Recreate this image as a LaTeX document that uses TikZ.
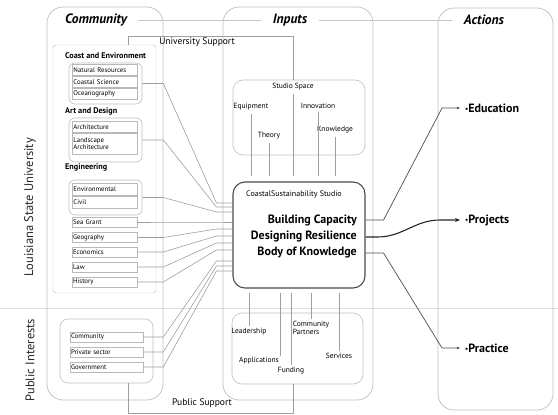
\documentclass[tikz,border=0pt]{standalone}
\usepackage{fontspec}
\setmainfont{PT Sans}
\usetikzlibrary{arrows.meta}

\newcommand{\dotmark}{{\fontsize{7}{7}\selectfont\raisebox{1pt}{•}}}

\tikzset{
  column/.style={draw=gray!50, rounded corners=16pt, line width=.7pt},
  group/.style={draw=gray!50, rounded corners=6pt, line width=.6pt},
  field/.style={draw=gray!55, line width=.5pt, inner sep=1pt, text width=63pt, minimum height=11pt, align=left, font=\fontsize{6.8}{7.2}\selectfont},
  head/.style={anchor=west, inner sep=0pt, font=\fontsize{8.2}{9}\selectfont\bfseries},
  title/.style={font=\fontsize{13.5}{15}\selectfont\bfseries\itshape},
  note/.style={inner sep=1pt, font=\fontsize{7.5}{8}\selectfont},
  side/.style={rotate=90, font=\fontsize{12.5}{14}\selectfont, text=gray!30!black},
  tie/.style={draw=gray!75, line width=.6pt},
  outcome/.style={anchor=west, inner sep=5pt, font=\fontsize{12}{14}\selectfont\bfseries},
  big/.style={anchor=east, inner sep=0pt, font=\fontsize{12}{14}\selectfont\bfseries},
}

\begin{document}
\begin{tikzpicture}[x=1pt, y=-1pt]
\useasboundingbox (0,0) rectangle (558,415);

% university / public split
\draw[gray!25, line width=.8pt] (0,308) -- (558,308);

% the three columns
\node[column, minimum width=116pt, minimum height=393pt] (com) at (105,203.5) {};
\node[column, minimum width=150pt, minimum height=393pt] (inp) at (298,203.5) {};
\node[column, minimum width=115pt, minimum height=402pt] (act) at (495.5,209) {};

\node[title] (tcom) at (96,20) {Community};
\node[title] (tinp) at (290,20) {Inputs};
\node[title] (tact) at (484,20) {Actions};
\draw[gray!45, shorten <=8pt, shorten >=8pt] (tcom) -- (tinp);
\draw[gray!45, shorten <=8pt, shorten >=8pt] (tinp) -- (tact);

\node[side] (lsulab) at (30,207) {Louisiana State University};
\node[side] (publab) at (30,360) {Public Interests};

% community side
\node[draw=gray!50, rounded corners=3pt, minimum width=103pt, minimum height=248pt] (lsu) at (104.5,169) {};
\node[group, rounded corners=8pt, minimum width=93pt, minimum height=64pt] (pub) at (106.5,351) {};

\node[head] (hcoast) at (65,56) {Coast and Environment};
\node[group, minimum width=73pt, minimum height=41pt] (coast) at (105.5,83.5) {};
\node[field] (natres) at (105,70) {Natural Resources};
\node[field] (coastsci) at (105,82) {Coastal Science};
\node[field] (ocean) at (105,94) {Oceanography};

\node[head] (hart) at (65,111) {Art and Design};
\node[group, minimum width=73pt, minimum height=44pt] (art) at (105.5,140) {};
\node[field] (arch) at (105,127) {Architecture};
\node[field, minimum height=21pt] (land) at (105,144) {Landscape\\Architecture};

\node[head] (heng) at (65,167) {Engineering};
\node[group, minimum width=73pt, minimum height=35pt] (eng) at (105.5,197.5) {};
\node[field, minimum height=12pt] (env) at (105,189) {Environmental};
\node[field, minimum height=12pt] (civil) at (105,202) {Civil};

\foreach \name/\txt/\yy in {sea/Sea Grant/222, geo/Geography/237.5, eco/Economics/252, law/Law/267, hist/History/282}
  \node[field, minimum height=10pt] (\name) at (104.5,\yy) {\txt};

\foreach \name/\txt/\yy in {comm/Community/337, priv/Private sector/352, gov/Government/367}
  \node[field, minimum height=10pt, text width=71pt] (\name) at (106.5,\yy) {\txt};

% inputs
\node[group, rounded corners=10pt, minimum width=132pt, minimum height=75pt] (studio) at (299,117.5) {};
\node[note] (space) at (293,87) {Studio Space};
\node[note] (equip) at (251,107) {Equipment};
\node[note] (innov) at (318,106) {Innovation};
\node[note] (theory) at (269,136) {Theory};
\node[note] (know) at (335,130) {Knowledge};

\node[draw=gray!60!black, line width=1.1pt, rounded corners=12pt, minimum width=132pt, minimum height=106pt] (css) at (299,235) {};
\node[inner sep=0pt, font=\fontsize{8}{9}\selectfont] (csstit) at (294,194) {CoastalSustainability Studio};
\node[big] (build) at (357,220) {Building Capacity};
\node[big] (design) at (357,237) {Designing Resilience};
\node[big] (body) at (357,253) {Body of Knowledge};

\node[group, rounded corners=10pt, minimum width=131pt, minimum height=71pt] (reach) at (297.5,348.5) {};
\node[note] (lead) at (249,332) {Leadership};
\node[note, align=left] (partner) at (311,328) {Community\\Partners};
\node[note] (serv) at (339,356) {Services};
\node[note] (appl) at (259,361) {Applications};
\node[note] (fund) at (291,371) {Funding};

% actions
\node[outcome] (edu) at (460,108) {\dotmark Education};
\node[outcome] (proj) at (460,220) {\dotmark Projects};
\node[outcome] (prac) at (460,348) {\dotmark Practice};

% support lines
\draw[tie] (lsu.north -| 128,0) -- ++(0,-9) -| (studio.north -| 293,0);
\node[font=\fontsize{9.5}{11}\selectfont] (usup) at (197,42) {University Support};
\draw[tie] (pub.south -| 128,0) -- ++(0,30) -| (reach.south -| 293,0);
\node[font=\fontsize{9.5}{11}\selectfont] (psup) at (202,403) {Public Support};

% inputs into the studio
\foreach \lbl in {space, equip, innov, theory, know}
  \draw[tie, shorten <=2pt, shorten >=5pt] (\lbl.south) -- (\lbl.south |- css.north);
\foreach \lbl in {lead, partner, serv, fund}
  \draw[tie, shorten <=4pt, shorten >=1pt] (css.south -| \lbl.north) -- (\lbl.north);
\draw[tie, shorten <=4pt] (css.south -| appl.north east) -- (appl.north east);

% community into the studio
\foreach \src/\yy in {coast/203, art/207, eng/212, sea/222, geo/229, eco/236, law/243, hist/250, comm/261, priv/266, gov/271}
  \draw[tie] (css.west |- 0,\yy) -- ++(-16,0) -- (\src.east -| com.east) -- (\src.east);

% studio to actions
\draw[gray!60!black, line width=.7pt, -{Stealth[length=3.5pt]}] (build.east -| css.east) -- ++(18,0) -- ([xshift=-18pt]edu.west) -- (edu.west);
\draw[black!85, line width=1.1pt, -{Stealth[length=5pt,width=4pt]}] (design.east -| css.east) -- ++(12,0) to[out=0, in=180] ([xshift=-20pt]proj.west) -- (proj.west);
\draw[gray!60!black, line width=.7pt, -{Stealth[length=3.5pt]}] (body.east -| css.east) -- ++(18,0) -- ([xshift=-18pt]prac.west) -- (prac.west);

\end{tikzpicture}
\end{document}
